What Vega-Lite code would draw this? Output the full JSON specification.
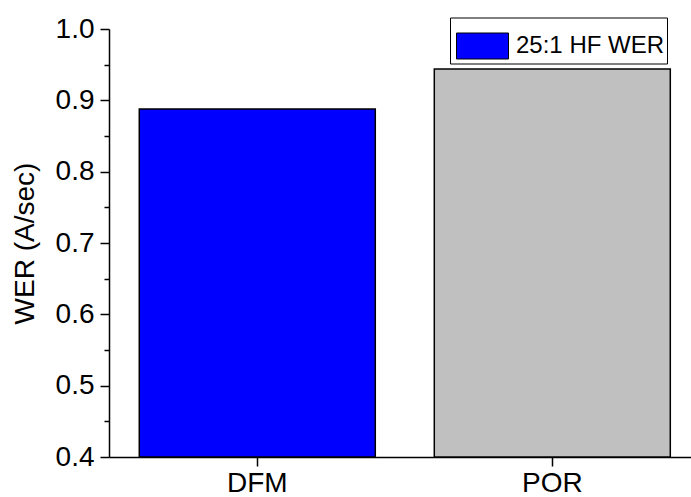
{
  "$schema": "https://vega.github.io/schema/vega-lite/v6.json",
  "width": 582,
  "height": 428,
  "autosize": {"type": "none"},
  "padding": {"left": 109, "top": 29, "right": 0, "bottom": 40},
  "background": "white",
  "config": {"view": {"stroke": null}, "font": "Liberation Sans"},
  "data": {"values": [
    {"category": "DFM", "value": 0.888, "series": "25:1 HF WER"},
    {"category": "POR", "value": 0.944, "series": "POR"}
  ]},
  "mark": {"type": "bar", "stroke": "#000000", "strokeWidth": 1.5},
  "encoding": {
    "x": {
      "field": "category", "type": "nominal", "sort": null,
      "scale": {"paddingInner": 0.2, "paddingOuter": 0.0864, "align": 0.594},
      "axis": {"title": null, "labelAngle": 0, "labelFontSize": 28, "labelColor": "#000", "domainColor": "#000", "domainWidth": 1.5, "tickColor": "#000", "tickSize": 9, "tickWidth": 1.5, "labelPadding": 3}
    },
    "y": {
      "field": "value", "type": "quantitative",
      "scale": {"domain": [0.4, 1.0], "nice": false, "zero": false},
      "axis": {
        "title": "WER (A/sec)", "titleFontSize": 28, "titleFontWeight": "normal", "titleColor": "#000", "titlePadding": 16,
        "values": [0.4, 0.45, 0.5, 0.55, 0.6, 0.65, 0.7, 0.75, 0.8, 0.85, 0.9, 0.95, 1.0],
        "labelExpr": "round(datum.value*100) % 10 == 0 ? format(datum.value, '.1f') : ''",
        "labelFontSize": 28, "labelColor": "#000", "labelPadding": 6,
        "grid": false, "domainColor": "#000", "domainWidth": 1.5, "tickColor": "#000", "tickWidth": 1.5,
        "tickSize": {"condition": {"test": "round(datum.value*100) % 10 == 0", "value": 9}, "value": 5}
      }
    },
    "y2": {"datum": 0.4},
    "fill": {
      "field": "series", "type": "nominal",
      "scale": {"domain": ["25:1 HF WER", "POR"], "range": ["#0000FF", "#C0C0C0"]},
      "legend": {
        "title": null, "values": ["25:1 HF WER"], "orient": "none", "legendX": 341, "legendY": -11.5,
        "symbolType": "M-1,-0.5H1V0.5H-1Z", "symbolSize": 2704, "symbolStrokeColor": "#000", "symbolStrokeWidth": 1, "symbolOffset": 4,
        "labelFontSize": 24, "labelColor": "#000", "labelOffset": 7,
        "strokeColor": "#000", "fillColor": "#fff", "padding": 2
      }
    }
  }
}
